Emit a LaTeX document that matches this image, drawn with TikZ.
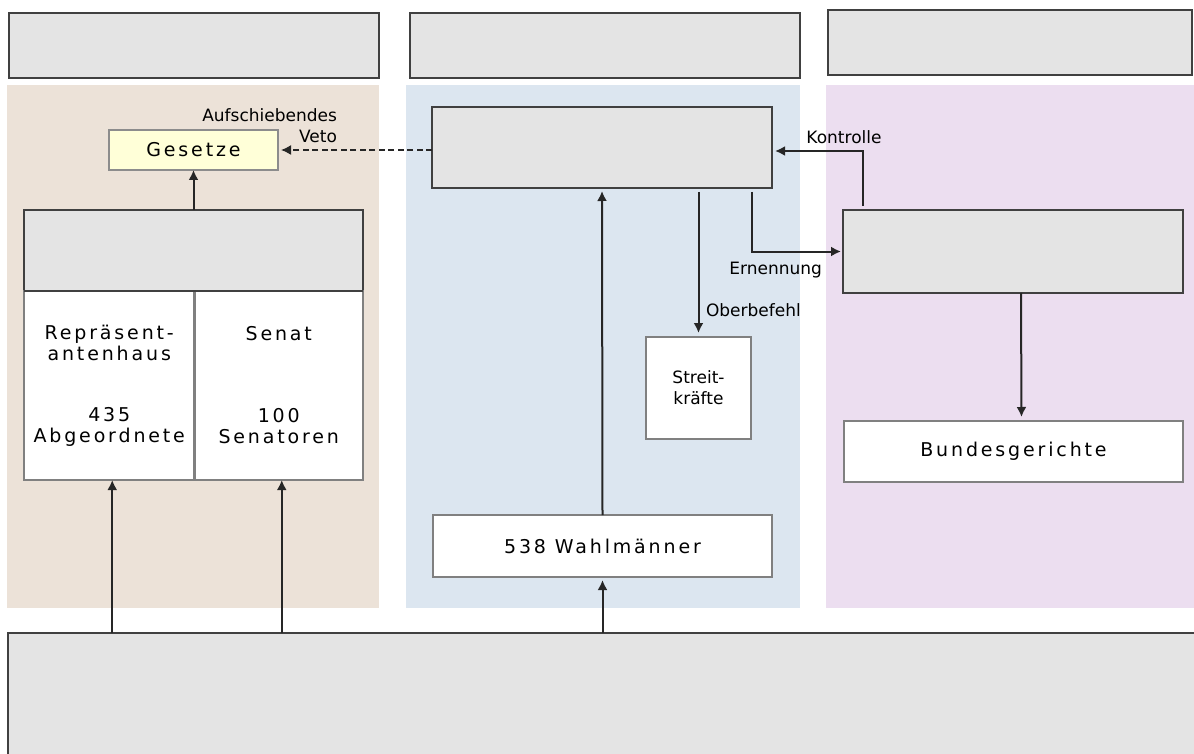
\documentclass[tikz,border=0pt]{standalone}
\usepackage{fontspec}
\setmainfont{DejaVu Sans}
\newfontfamily\wide[LetterSpace=15]{DejaVu Sans}
\usepackage{tikz}
\usetikzlibrary{arrows.meta}
\definecolor{legis}{HTML}{ECE2D8}
\definecolor{exeku}{HTML}{DCE6F0}
\definecolor{judik}{HTML}{ECDEF0}
\definecolor{kopf}{HTML}{E4E4E4}
\definecolor{gelb}{HTML}{FFFFD8}

\begin{document}
\begin{tikzpicture}[x=1pt,y=-1pt,>={Latex[length=10pt,width=10pt]},
		every node/.style={inner sep=0pt,outer sep=0pt},
		grau/.style={draw=black!75,line width=1.5pt,fill=kopf},
		weiss/.style={draw=black!50,line width=2.2pt,fill=white,align=center,font=\wide\fontsize{19}{21}\selectfont},
		pfeil/.style={->,line width=2pt,draw=black!85},
		klein/.style={align=center,font=\fontsize{17}{21}\selectfont}]
			\useasboundingbox (0,0) rectangle (1194,754);
			
			% panels
			\fill[legis] (7,85) rectangle (379,608);
			\fill[exeku] (406,85) rectangle (800,608);
			\fill[judik] (826,85) rectangle (1194,608);
			
			% headers
			\node[grau,minimum width=370,minimum height=65] (H1) at (194,45.5) {};
			\node[grau,minimum width=390,minimum height=65] (H2) at (605,45.5) {};
			\node[grau,minimum width=364,minimum height=65] (H3) at (1010,42.5) {};
			\node[grau,anchor=north west,minimum width=1200,minimum height=140] (Volk) at (8,633) {};
			
			% legislative
			\node[weiss,draw=black!45,fill=gelb,minimum width=169,minimum height=40] (Gesetze) at (193.5,150) {Gesetze};
			\node[grau,minimum width=339,minimum height=81] (Kongress) at (193.5,250.5) {};
			\node[weiss,minimum width=170.5,minimum height=189] (Haus) at (109.25,385.5) {Repräsent-\\antenhaus\\[40pt]435\\Abgeordnete};
			\node[weiss,minimum width=168.5,minimum height=189] (Senat) at (278.75,385.5) {Senat\\[61pt]100\\Senatoren};
			\draw[black!75,line width=1.5pt] (Kongress.south west) -- (Kongress.south east);
			\node[klein,align=right,anchor=south east] (Veto) at (337,143) {Aufschiebendes\\Veto};
			
			% executive
			\node[grau,minimum width=340,minimum height=81] (Exec) at (602,147.5) {};
			\node[weiss,minimum width=105,minimum height=102,font=\fontsize{17}{21}\selectfont] (Streit) at (698.5,388) {Streit-\\kräfte};
			\node[weiss,minimum width=339,minimum height=62] (Wahl) at (602.5,546) {538 Wahlmänner};
			
			% judicative
			\node[grau,minimum width=340,minimum height=83] (Judik) at (1013,251.5) {};
			\node[weiss,minimum width=339,minimum height=61] (Bund) at (1013.5,451.5) {Bundesgerichte};
			
			\draw[pfeil] (Kongress.north) -- (Gesetze.south);
			\draw[pfeil,line width=1.5pt,dash pattern=on 6pt off 3.5pt] (Exec.west |- Gesetze.east) -- ([xshift=3]Gesetze.east);
			\draw[pfeil] ([xshift=3]Haus.south |- Volk.north) -- ([xshift=3]Haus.south);
			\draw[pfeil] ([xshift=3]Senat.south |- Volk.north) -- ([xshift=3]Senat.south);
			\draw[pfeil] (Wahl.south |- Volk.north) -- ([yshift=-3]Wahl.south);
			\draw[pfeil,shorten >=3pt] (Wahl.north) -- (Exec.south);
			\draw[pfeil,shorten <=4pt,shorten >=4pt] (Streit.north |- Exec.south) -- (Streit.north);
			\draw[pfeil,shorten <=4pt,shorten >=2pt] ([xshift=150]Exec.south) |- (Judik.west);
			\draw[pfeil,shorten <=4pt,shorten >=3pt] ([xshift=-150]Judik.north) |- ([yshift=-3.5]Exec.east);
			\draw[pfeil,shorten >=4pt] ([xshift=8]Judik.south) -- ([xshift=8]Bund.north);
			\node[klein,anchor=west] (Ober) at (706,310) {Oberbefehl};
			\node[klein,anchor=east] (Ernen) at (822,270) {Ernennung};
			\node[klein] (Kontr) at (844,137) {Kontrolle};
		\end{tikzpicture}
\end{document}
